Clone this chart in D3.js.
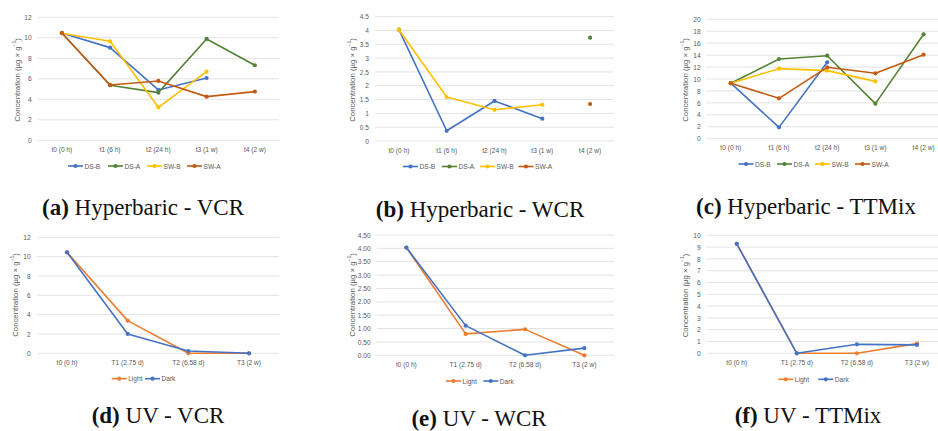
<!DOCTYPE html>
<html><head><meta charset="utf-8">
<script src="https://cdn.jsdelivr.net/npm/d3@7"></script>
<style>
body{margin:0;background:#fff;}
svg{display:block;}
</style></head>
<body>
<svg id="c" width="938" height="431"></svg>
<script>
// ---- data ----
const catsHyper = ["t0 (0 h)", "t1 (6 h)", "t2 (24 h)", "t3 (1 w)", "t4 (2 w)"];
const catsUV = ["t0 (0 h)", "T1 (2.75 d)", "T2 (6.58 d)", "T3 (2 w)"];
const namesHyper = ["DS-B", "DS-A", "SW-B", "SW-A"];
const namesUV = ["Light", "Dark"];

// (a) Hyperbaric - VCR
const hVCR_DSB = [10.47, 9.04, 4.91, 6.08, null];
const hVCR_DSA = [10.47, 5.37, 4.65, 9.89, 7.32];
const hVCR_SWB = [10.44, 9.66, 3.22, 6.70, null];
const hVCR_SWA = [10.47, 5.40, 5.79, 4.26, 4.75];
// (b) Hyperbaric - WCR
const hWCR_DSB = [4.03, 0.37, 1.45, 0.81, null];
const hWCR_DSA = [null, null, null, null, 3.74];
const hWCR_SWB = [4.03, 1.59, 1.13, 1.31, null];
const hWCR_SWA = [null, null, null, null, 1.34];
// (c) Hyperbaric - TTMix
const hTT_DSB = [9.3, 1.9, 12.8, null, null];
const hTT_DSA = [9.3, 13.35, 13.9, 5.87, 17.49];
const hTT_SWB = [9.3, 11.73, 11.4, 9.6, null];
const hTT_SWA = [9.3, 6.76, 11.96, 10.95, 14.08];
// (d) UV - VCR
const uVCR_Light = [10.45, 3.38, 0.0, 0.0];
const uVCR_Dark = [10.45, 2.0, 0.24, 0.0];
// (e) UV - WCR
const uWCR_Light = [4.03, 0.80, 0.97, 0.0];
const uWCR_Dark = [4.03, 1.11, 0.0, 0.27];
// (f) UV - TTMix
const uTT_Light = [9.28, 0.0, 0.0, 0.82];
const uTT_Dark = [9.28, 0.0, 0.76, 0.71];

// y ticks
const ticksA = [0, 2, 4, 6, 8, 10, 12];
const ticksB = [0, 0.5, 1, 1.5, 2, 2.5, 3, 3.5, 4, 4.5];
const ticksC = [0, 2, 4, 6, 8, 10, 12, 14, 16, 18, 20];
const ticksD = [0, 2, 4, 6, 8, 10, 12];
const ticksE = [0, 0.5, 1, 1.5, 2, 2.5, 3, 3.5, 4, 4.5];
const ticksF = [0, 1, 2, 3, 4, 5, 6, 7, 8, 9, 10];

const captions = [
  ["(a)", " Hyperbaric - VCR"], ["(b)", " Hyperbaric - WCR"], ["(c)", " Hyperbaric - TTMix"],
  ["(d)", " UV - VCR"], ["(e)", " UV - WCR"], ["(f)", " UV - TTMix"]
];

// ---- styles / layout ----
const colHyper = ["#4472C4", "#548235", "#FFC000", "#C55A11"];
const colUV = ["#ED7D31", "#4472C4"];
const sansFont = "'Liberation Sans', Arial, sans-serif";

const panels = [
  {cats: catsHyper, names: namesHyper, cols: colHyper, data: [hVCR_DSB, hVCR_DSA, hVCR_SWB, hVCR_SWA],
   ticks: ticksA, fmt: d3.format("d"), x0: 37.7, x1: 279, yT: 17.3, yB: 140.3,
   titleX: 16.7, titleY: 80, legY: 166, legX: [68, 108, 147, 187]},
  {cats: catsHyper, names: namesHyper, cols: colHyper, data: [hWCR_DSB, hWCR_DSA, hWCR_SWB, hWCR_SWA],
   ticks: ticksB, fmt: d => String(d), x0: 375, x1: 614, yT: 16.7, yB: 141,
   titleX: 351.7, titleY: 80, legY: 166.5, legX: [403, 442, 480, 518.5]},
  {cats: catsHyper, names: namesHyper, cols: colHyper, data: [hTT_DSB, hTT_DSA, hTT_SWB, hTT_SWA],
   ticks: ticksC, fmt: d3.format("d"), x0: 706.7, x1: 947.7, yT: 19.3, yB: 138.7,
   titleX: 685, titleY: 80, legY: 164, legX: [738.5, 777, 815, 855]},
  {cats: catsUV, names: namesUV, cols: colUV, data: [uVCR_Light, uVCR_Dark],
   ticks: ticksD, fmt: d3.format("d"), x0: 36.7, x1: 279.3, yT: 237.3, yB: 353.3,
   titleX: 15, titleY: 295, legY: 378.7, legX: [111.7, 145]},
  {cats: catsUV, names: namesUV, cols: colUV, data: [uWCR_Light, uWCR_Dark],
   ticks: ticksE, fmt: d3.format(".2f"), x0: 376.7, x1: 614, yT: 235, yB: 355.3,
   titleX: 351.7, titleY: 295, legY: 381, legX: [446, 483.3]},
  {cats: catsUV, names: namesUV, cols: colUV, data: [uTT_Light, uTT_Dark],
   ticks: ticksF, fmt: d3.format("d"), x0: 706.7, x1: 947, yT: 235.3, yB: 353.3,
   titleX: 685, titleY: 295.5, legY: 379.3, legX: [778.3, 818.3]}
];

const capPos = [
  {x: 143, y: 215}, {x: 480, y: 217}, {x: 806, y: 214},
  {x: 158, y: 423}, {x: 479, y: 426}, {x: 808, y: 423}
];

const svg = d3.select("#c");

panels.forEach((p, pi) => {
  const g = svg.append("g");
  const x = d3.scaleBand().domain(p.cats).range([p.x0, p.x1]);
  const y = d3.scaleLinear().domain([0, d3.max(p.ticks)]).range([p.yB, p.yT]);

  // gridlines
  g.append("g").selectAll("line").data(p.ticks).join("line")
    .attr("x1", p.x0).attr("x2", p.x1)
    .attr("y1", d => y(d)).attr("y2", d => y(d))
    .attr("stroke", "#d9d9d9").attr("stroke-width", 0.75);

  // y tick labels via axis
  const ya = d3.axisLeft(y).tickValues(p.ticks).tickFormat(p.fmt).tickSize(0).tickPadding(6);
  const yg = g.append("g").attr("transform", `translate(${p.x0},0)`).call(ya);
  yg.select(".domain").remove();
  yg.selectAll("text").attr("fill", "#595959").attr("font-size", 6.6).attr("font-family", sansFont);

  // x tick labels via axis
  const xa = d3.axisBottom(x).tickSize(0).tickPadding(7);
  const xg = g.append("g").attr("transform", `translate(0,${p.yB})`).call(xa);
  xg.select(".domain").remove();
  xg.selectAll("text").attr("fill", "#595959").attr("font-size", 6.6).attr("font-family", sansFont);

  // y title
  const t = g.append("text")
    .attr("transform", `translate(${p.titleX},${p.titleY}) rotate(-90)`)
    .attr("text-anchor", "middle").attr("dominant-baseline", "central")
    .attr("fill", "#595959").attr("font-size", 7.8).attr("font-family", sansFont);
  t.append("tspan").text("Concentration (µg × g");
  t.append("tspan").attr("font-size", 5).attr("dy", -3).text("−1");
  t.append("tspan").attr("dy", 3).text(")");

  // series
  const line = d3.line()
    .defined(d => d.v !== null)
    .x(d => x(d.c) + x.bandwidth() / 2)
    .y(d => y(d.v));
  p.data.forEach((arr, si) => {
    const pts = arr.map((v, i) => ({c: p.cats[i], v}));
    g.append("path").datum(pts).attr("d", line)
      .attr("fill", "none").attr("stroke", p.cols[si]).attr("stroke-width", 1.6)
      .attr("stroke-linejoin", "round");
    g.append("g").selectAll("circle").data(pts.filter(d => d.v !== null)).join("circle")
      .attr("cx", d => x(d.c) + x.bandwidth() / 2).attr("cy", d => y(d.v))
      .attr("r", 2.1).attr("fill", p.cols[si]);
  });

  // legend
  p.names.forEach((n, si) => {
    const lx = p.legX[si];
    g.append("line").attr("x1", lx).attr("x2", lx + 15).attr("y1", p.legY).attr("y2", p.legY)
      .attr("stroke", p.cols[si]).attr("stroke-width", 1.6);
    g.append("circle").attr("cx", lx + 7.5).attr("cy", p.legY).attr("r", 2.1).attr("fill", p.cols[si]);
    g.append("text").attr("x", lx + 16.5).attr("y", p.legY).attr("dominant-baseline", "central")
      .attr("fill", "#595959").attr("font-size", 6.6).attr("font-family", sansFont).text(n);
  });

  // caption
  const c = svg.append("text").attr("x", capPos[pi].x).attr("y", capPos[pi].y)
    .attr("text-anchor", "middle")
    .attr("font-family", "'Liberation Serif', 'DejaVu Serif', serif").attr("font-size", 23).attr("fill", "#111");
  c.append("tspan").attr("font-weight", "bold").text(captions[pi][0]);
  c.append("tspan").text(captions[pi][1]);
});
</script>
</body></html>
